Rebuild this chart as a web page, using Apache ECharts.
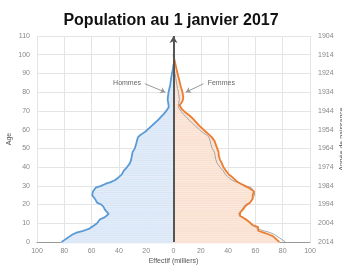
<!DOCTYPE html>
<html>
<head>
<meta charset="utf-8">
<script src="https://cdn.jsdelivr.net/npm/echarts@6/dist/echarts.min.js"></script>
<style>
  html, body { margin: 0; padding: 0; background: #fff; }
  #chart { width: 342px; height: 270px; }
</style>
</head>
<body>
<div id="chart"></div>
<script>
// effectifs en milliers, index = age
const hommes = [
  82, 80, 78, 76, 74, 71, 66, 62, 61, 58,
  56, 55, 54, 51, 49, 47.5, 48.5, 50, 51, 51.5,
  53, 56, 57, 57.5, 58.5, 59.5, 59.5, 59, 58, 57,
  53, 50, 46, 43, 41, 39.5, 38, 37, 36.5, 35.5,
  34, 33, 32, 31.5, 31, 30.8, 30.5, 30.5, 30, 29,
  28.3, 28, 27.5, 27, 26.8, 26.5, 26, 24.5, 22.5, 20.5,
  19, 17.5, 16, 14.5, 13, 11.5, 10.3, 9, 7.5, 6.3,
  5.3, 4.5, 3.5, 3.3, 3.8, 4.2, 4.3, 4.2, 4, 3.8,
  3.6, 3.3, 3, 2.7, 2.4, 2.2, 2, 1.8, 1.6, 1.4,
  1.1, 0.8, 0.5, 0.3, 0.1, 0
];
const femmes = [
  77.5, 76, 75, 73, 70, 66, 62, 61, 62, 58,
  56.5, 55, 53, 51, 48.5, 48, 49, 50.5, 51.7, 52.5,
  54, 56, 57, 58, 58, 58, 58.5, 59, 57, 55,
  52, 49.5, 47, 45.5, 44, 42.5, 40.5, 39.5, 38.5, 37.5,
  36.5, 35.8, 35.5, 34.8, 34, 33.5, 33.2, 33, 33, 32.5,
  32, 31.5, 31, 30.5, 30, 29.5, 28, 27, 25, 23.5,
  22, 20.5, 19, 18, 16.5, 15.2, 14, 12.5, 11, 9,
  7.5, 6, 5, 4.5, 5.5, 6.5, 7, 7.2, 7, 6.8,
  6.5, 6.2, 5.8, 5.3, 5, 4.7, 4.4, 4, 3.7, 3.3,
  3, 2.6, 2.3, 2, 1.7, 1.4, 1.1, 0.8, 0.5, 0.2, 0
];
const anneeRef = 2014; // annee de naissance pour l'age 0 sur l'axe de droite

const hommesPts = hommes.map((v, age) => [-v, age]);
const femmesPts = femmes.map((v, age) => [v, age]);
const hommesMiroir = hommes.map((v, age) => [v, age]);

const chart = echarts.init(document.getElementById('chart'));

// barres horizontales (une par age) pour le remplissage
function barres(fill, stroke) {
  return function (params, api) {
    const v = api.value(0), age = api.value(1);
    const p0 = api.coord([0, age + 0.5]);
    const p1 = api.coord([v, age - 0.5]);
    return {
      type: 'rect',
      shape: {
        x: Math.min(p0[0], p1[0]), y: p0[1],
        width: Math.abs(p1[0] - p0[0]), height: p1[1] - p0[1]
      },
      style: { fill: fill, stroke: stroke, lineWidth: 0.5 }
    };
  };
}

const labelStyle = { color: '#888', fontSize: 7, fontFamily: 'Liberation Sans' };

chart.setOption({
  animation: false,
  title: {
    text: 'Population au 1 janvier 2017',
    left: 'center', top: 8,
    textStyle: { fontSize: 16, fontWeight: 'bold', color: '#111', fontFamily: 'Liberation Sans' }
  },
  grid: { left: 37, right: 32, top: 36, bottom: 28, containLabel: false, outerBoundsMode: 'none' },
  xAxis: {
    type: 'value', min: -100, max: 100, interval: 20,
    name: 'Effectif (milliers)', nameLocation: 'middle', nameGap: 16, nameMoveOverlap: false,
    nameTextStyle: { color: '#555', fontSize: 7, fontFamily: 'Liberation Sans' },
    axisLabel: Object.assign({ formatter: v => Math.abs(v), margin: 6 }, labelStyle),
    axisLine: { onZero: false, lineStyle: { color: '#999' } },
    axisTick: { show: false },
    splitLine: { lineStyle: { color: '#e4e4e4' } }
  },
  yAxis: [{
    type: 'value', min: 0, max: 110, interval: 10,
    name: 'Age', nameLocation: 'middle', nameGap: 24, nameRotate: 90, nameMoveOverlap: false,
    nameTextStyle: { color: '#555', fontSize: 7, fontFamily: 'Liberation Sans' },
    axisLabel: Object.assign({ margin: 7 }, labelStyle),
    axisLine: { show: false }, axisTick: { show: false },
    splitLine: { lineStyle: { color: '#e4e4e4' } }
  }, {
    type: 'value', min: 0, max: 110, interval: 10, position: 'right',
    name: 'Année de naissance', nameLocation: 'middle', nameGap: 29, nameRotate: 90, nameMoveOverlap: false,
    nameTextStyle: { color: '#555', fontSize: 7, fontFamily: 'Liberation Sans' },
    axisLabel: Object.assign({ formatter: v => String(anneeRef - v), margin: 8 }, labelStyle),
    axisLine: { show: false }, axisTick: { show: false },
    splitLine: { show: false }
  }],
  series: [
    {
      type: 'custom', renderItem: barres('#e6effa', '#cfdff2'),
      data: hommesPts, encode: { x: 0, y: 1 }, z: 1, silent: true
    },
    {
      type: 'custom', renderItem: barres('#fdebdf', '#f6d6c2'),
      data: femmesPts, encode: { x: 0, y: 1 }, z: 1, silent: true
    },
    {
      name: 'Hommes (miroir)', type: 'line', data: hommesMiroir, showSymbol: false,
      lineStyle: { color: '#a5a5a5', width: 1 }, z: 3
    },
    {
      name: 'Hommes', type: 'line', data: hommesPts, showSymbol: false,
      lineStyle: { color: '#5b9bd5', width: 1.8 }, z: 4,
      markPoint: {
        symbol: 'circle', symbolSize: 1, itemStyle: { color: 'rgba(0,0,0,0)' },
        label: { show: true, position: 'inside', formatter: 'Hommes', color: '#666', fontSize: 7, fontFamily: 'Liberation Sans' },
        data: [{ coord: [-34, 85] }]
      },
      markLine: {
        silent: true, symbol: ['none', 'arrow'], symbolSize: 5,
        lineStyle: { color: '#999', width: 1, type: 'solid' }, label: { show: false },
        data: [[{ coord: [-21, 84.5] }, { coord: [-6, 80] }]]
      }
    },
    {
      name: 'Femmes', type: 'line', data: femmesPts, showSymbol: false,
      lineStyle: { color: '#ed7d31', width: 1.8 }, z: 4,
      markPoint: {
        symbol: 'circle', symbolSize: 1, itemStyle: { color: 'rgba(0,0,0,0)' },
        label: { show: true, position: 'inside', formatter: 'Femmes', color: '#666', fontSize: 7, fontFamily: 'Liberation Sans' },
        data: [{ coord: [35, 85] }]
      },
      markLine: {
        silent: true, symbol: ['none', 'arrow'], symbolSize: 5,
        lineStyle: { color: '#999', width: 1, type: 'solid' }, label: { show: false },
        data: [[{ coord: [22, 84.5] }, { coord: [9, 80] }]]
      }
    },
    {
      // axe central avec fleche
      type: 'line', data: [], z: 5,
      markLine: {
        silent: true, symbol: ['none', 'arrow'], symbolSize: [6, 7],
        lineStyle: { color: '#555', width: 2, type: 'solid' }, label: { show: false },
        data: [[{ coord: [0, 0] }, { coord: [0, 110] }]]
      }
    }
  ]
});
</script>
</body>
</html>
